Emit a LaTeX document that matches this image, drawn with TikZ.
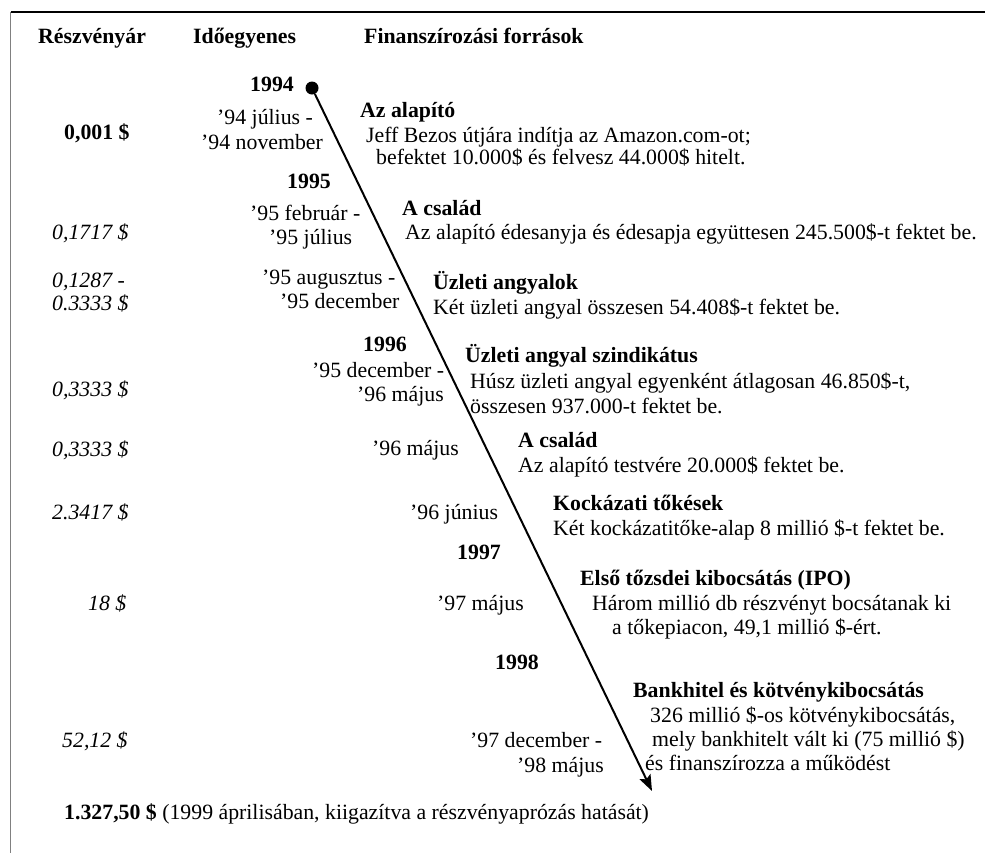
\documentclass[tikz,border=0pt]{standalone}
\usepackage{fontspec}
\setmainfont{Liberation Serif}
\usetikzlibrary{arrows.meta}
\begin{document}
\begin{tikzpicture}[x=1pt,y=-1pt,
  txt/.style={anchor=base west, inner sep=0pt, font=\fontsize{21.8}{25}\selectfont},
  bt/.style={txt, font=\fontsize{21.8}{25}\selectfont\bfseries},
  it/.style={txt, font=\fontsize{21.8}{25}\selectfont\itshape},
  frametop/.style={line width=1.5pt, black},
  frameleft/.style={line width=1.5pt, gray},
  timeline/.style={line width=2pt, -{Stealth[length=16pt,width=12pt,inset=3pt]}}]
\useasboundingbox (0,0) rectangle (985,855);
% frame
\coordinate (ftl) at (10.5,12);
\coordinate (ftr) at (985,12);
\coordinate (fbl) at (10.5,853);
\draw[frametop] (ftl) -- (ftr);
\draw[frameleft] (ftl) -- (fbl);
% headers
\node[bt] (h1) at (38,43) {Részvényár};
\node[bt] (h2) at (193,43) {Időegyenes};
\node[bt] (h3) at (364,43) {Finanszírozási források};
% timeline
\node[circle, fill=black, inner sep=0pt, minimum size=13pt] (start) at (312,88) {};
\coordinate (end) at (652,791);
\draw[timeline] (start) -- (end);
% years
\node[bt] (y94) at (250,91) {1994};
\node[bt] (y95) at (287,188) {1995};
\node[bt] (y96) at (363,351) {1996};
\node[bt] (y97) at (457,559) {1997};
\node[bt] (y98) at (495,669) {1998};
% prices
\node[bt] (p1) at (64,139) {0,001 \$};
\node[it] (p2) at (52,239) {0,1717 \$};
\node[it] (p3a) at (52,287) {0,1287 -};
\node[it] (p3b) at (52,310) {0.3333 \$};
\node[it] (p4) at (52,396) {0,3333 \$};
\node[it] (p5) at (52,456) {0,3333 \$};
\node[it] (p6) at (52,519) {2.3417 \$};
\node[it] (p7) at (88,610) {18 \$};
\node[it] (p8) at (62,747) {52,12 \$};
% dates
\node[txt] (d1a) at (217,124) {’94 július -};
\node[txt] (d1b) at (201,149) {’94 november};
\node[txt] (d2a) at (250,220) {’95 február -};
\node[txt] (d2b) at (269,244) {’95 július};
\node[txt] (d3a) at (262,284) {’95 augusztus -};
\node[txt] (d3b) at (280,308) {’95 december};
\node[txt] (d4a) at (312,377) {’95 december -};
\node[txt] (d4b) at (357,401) {’96 május};
\node[txt] (d5) at (372,455) {’96 május};
\node[txt] (d6) at (410,519) {’96 június};
\node[txt] (d7) at (437,610) {’97 május};
\node[txt] (d8a) at (470,747) {’97 december -};
\node[txt] (d8b) at (517,772) {’98 május};
% sources
\node[bt] (s1) at (360,117) {Az alapító};
\node[txt] (s1a) at (366,142) {Jeff Bezos útjára indítja az Amazon.com-ot;};
\node[txt] (s1b) at (376,164) {befektet 10.000\$ és felvesz 44.000\$ hitelt.};
\node[bt] (s2) at (402,215) {A család};
\node[txt] (s2a) at (405,239) {Az alapító édesanyja és édesapja együttesen 245.500\$-t fektet be.};
\node[bt] (s3) at (433,289) {Üzleti angyalok};
\node[txt] (s3a) at (433,314) {Két üzleti angyal összesen 54.408\$-t fektet be.};
\node[bt] (s4) at (465,362) {Üzleti angyal szindikátus};
\node[txt] (s4a) at (470,388) {Húsz üzleti angyal egyenként átlagosan 46.850\$-t,};
\node[txt] (s4b) at (470,413) {összesen 937.000-t fektet be.};
\node[bt] (s5) at (518,447) {A család};
\node[txt] (s5a) at (518,472) {Az alapító testvére 20.000\$ fektet be.};
\node[bt] (s6) at (553,510) {Kockázati tőkések};
\node[txt] (s6a) at (553,535) {Két kockázatitőke-alap 8 millió \$-t fektet be.};
\node[bt] (s7) at (580,585) {Első tőzsdei kibocsátás (IPO)};
\node[txt] (s7a) at (592,610) {Három millió db részvényt bocsátanak ki};
\node[txt] (s7b) at (612,634) {a tőkepiacon, 49,1 millió \$-ért.};
\node[bt] (s8) at (633,697) {Bankhitel és kötvénykibocsátás};
\node[txt] (s8a) at (650,722) {326 millió \$-os kötvénykibocsátás,};
\node[txt] (s8b) at (652,746) {mely bankhitelt vált ki (75 millió \$)};
\node[txt] (s8c) at (645,770) {és finanszírozza a működést};
% bottom
\node[txt] (fin) at (64,819) {\textbf{1.327,50 \$} (1999 áprilisában, kiigazítva a részvényaprózás hatását)};
\end{tikzpicture}
\end{document}
